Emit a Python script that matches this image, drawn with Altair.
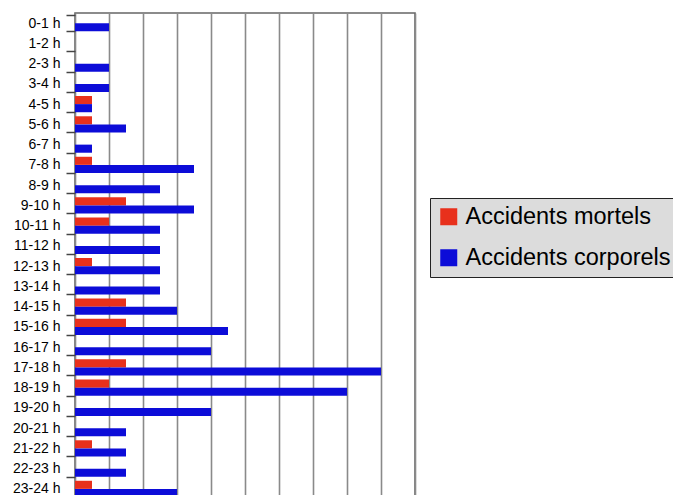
import altair as alt
import pandas as pd

hours = ["0-1 h", "1-2 h", "2-3 h", "3-4 h", "4-5 h", "5-6 h", "6-7 h", "7-8 h",
         "8-9 h", "9-10 h", "10-11 h", "11-12 h", "12-13 h", "13-14 h", "14-15 h",
         "15-16 h", "16-17 h", "17-18 h", "18-19 h", "19-20 h", "20-21 h",
         "21-22 h", "22-23 h", "23-24 h"]
mortels = [0, 0, 0, 0, 1, 1, 0, 1, 0, 3, 2, 0, 1, 0, 3, 3, 0, 3, 2, 0, 0, 1, 0, 1]
corporels = [2, 0, 2, 2, 1, 3, 1, 7, 5, 7, 5, 5, 5, 5, 6, 9, 8, 18, 16, 8, 3, 3, 3, 6]
series = ["Accidents mortels", "Accidents corporels"]
colors = ["#e8301c", "#0c0cd8"]

rows = []
for h, m, c in zip(hours, mortels, corporels):
    rows.append({"heure": h, "serie": series[0], "valeur": m})
    rows.append({"heure": h, "serie": series[1], "valeur": c})
df = pd.DataFrame(rows)

chart = alt.Chart(df).mark_bar().encode(
    y=alt.Y("heure:N", sort=hours, title=None,
            scale=alt.Scale(paddingInner=0.2, paddingOuter=0.1),
            axis=alt.Axis(tickBand="extent", labelFontSize=14, labelColor="#000",
                          labelFont="Liberation Sans", tickSize=9, tickColor="#444",
                          tickWidth=1.5, labelPadding=6, domain=False, grid=False)),
    yOffset=alt.YOffset("serie:N", sort=series),
    x=alt.X("valeur:Q", title=None, scale=alt.Scale(domain=[0, 20], nice=False),
            axis=alt.Axis(values=list(range(0, 21, 2)), labels=False, ticks=False,
                          domain=False, grid=True, gridColor="#8a8a8a", gridWidth=1.6)),
    color=alt.Color("serie:N", sort=series, title=None,
                    scale=alt.Scale(domain=series, range=colors),
                    legend=alt.Legend(orient="none", legendX=355, legendY=185,
                                      fillColor="#dcdcdc", strokeColor="#222",
                                      padding=7, symbolType="square", symbolSize=289,
                                      symbolStrokeWidth=0, labelFontSize=23.5,
                                      labelFont="Liberation Sans", labelColor="#000",
                                      labelOffset=5, rowPadding=16, labelLimit=400)),
).properties(
    width=340, height=486,
    autosize=alt.AutoSizeParams(type="none"),
    padding={"left": 67, "top": 5, "right": 258, "bottom": -4},
).configure_view(
    stroke="#666", strokeWidth=1.6
)

chart.save("out.html", embed_options={"renderer": "svg", "actions": False})
